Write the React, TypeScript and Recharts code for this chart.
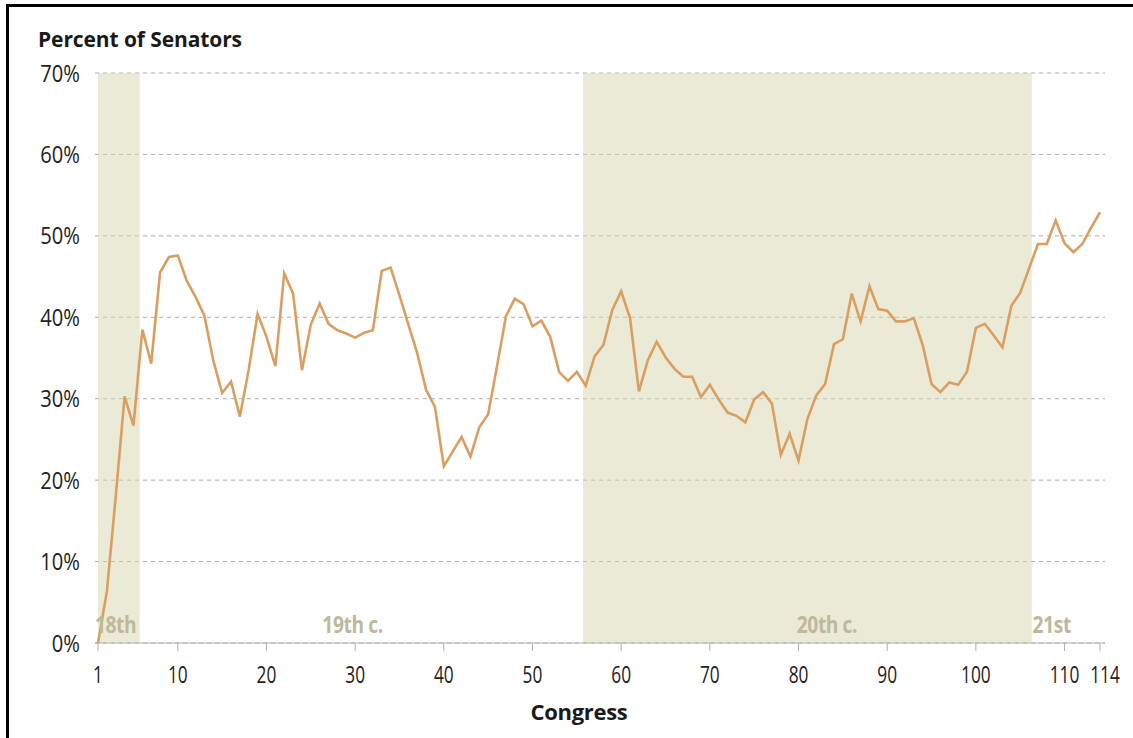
import React from 'react';
import { LineChart, Line, XAxis, YAxis, CartesianGrid, ReferenceArea, ReferenceDot } from 'recharts';

// Share of senators per Congress (%), Congress 1 .. 114
const SENATOR_PCT = [
  0, 6.3, 18, 30.3, 26.7, 38.5, 34.3, 45.5, 47.4, 47.6,
  44.5, 42.5, 40.2, 34.7, 30.7, 32.1, 27.8, 33.6, 40.4, 37.6,
  34.0, 45.4, 42.9, 33.5, 39.1, 41.7, 39.2, 38.4, 38.0, 37.5,
  38.1, 38.4, 45.7, 46.1, 42.7, 39.1, 35.6, 31.1, 29.0, 21.7,
  23.5, 25.3, 22.9, 26.5, 28.1, 34.0, 40.1, 42.3, 41.6, 38.9,
  39.6, 37.6, 33.3, 32.2, 33.3, 31.6, 35.2, 36.6, 40.9, 43.2,
  39.9, 30.9, 34.7, 37.0, 35.1, 33.7, 32.7, 32.7, 30.2, 31.7,
  29.9, 28.3, 27.9, 27.1, 29.9, 30.8, 29.4, 23.1, 25.7, 22.4,
  27.5, 30.4, 31.8, 36.7, 37.3, 42.9, 39.5, 43.8, 41.0, 40.8,
  39.5, 39.5, 39.9, 36.6, 31.8, 30.8, 32.0, 31.7, 33.3, 38.7,
  39.2, 37.8, 36.3, 41.4, 43.0, 46.0, 49.0, 49.0, 51.9, 49.1,
  48.0, 49.0, 51.0, 52.9,
];

const X_TICKS = [1, 10, 20, 30, 40, 50, 60, 70, 80, 90, 100, 110, 114];
const Y_TICKS = [0, 10, 20, 30, 40, 50, 60, 70];

// shaded centuries (in Congress units)
const SHADED = [
  { from: 1, to: 5.7 },
  { from: 55.7, to: 106.3 },
];

const CENTURY_LABELS = [
  { text: '18th', at: 0.65 },
  { text: '19th c.', at: 26.3 },
  { text: '20th c.', at: 79.8 },
  { text: '21st', at: 106.4 },
];

const data = SENATOR_PCT.map((v, i) => ({ congress: i + 1, pct: v }));

const FONT = '"Open Sans", "Noto Sans", sans-serif';

// narrow-ish text, the original uses a condensed face
const XTick = ({ x, y, payload }: any) => (
  <g transform={`translate(${x + (payload.value === 114 ? 5 : 0)},${y})`}>
    <text x={0} y={0} dy={16} textAnchor="middle" transform="scale(0.72,1)" fill="#222" fontSize={24} fontFamily={FONT}>
      {payload.value}
    </text>
  </g>
);

const YTick = ({ x, y, payload }: any) => (
  <g transform={`translate(${x},${y})`}>
    <text x={0} y={0} dy={8.5} textAnchor="end" transform="scale(0.84,1)" fill="#222" fontSize={24} fontFamily={FONT}>
      {`${payload.value}%`}
    </text>
  </g>
);

const centuryLabel = (text: string) => (props: any) => {
  const vb = props.viewBox || {};
  return (
    <g transform={`translate(${vb.x},${vb.y})`}>
      <text x={0} y={0} dy={8} textAnchor="start" transform="scale(0.8,1)" fill="#bdb99b" fontSize={24} fontWeight={700} fontFamily={FONT} letterSpacing={-0.5}>
        {text}
      </text>
    </g>
  );
};

export default function App() {
  return (
    <div style={{ position: 'absolute', left: 0, top: 0, width: 1133, height: 738, background: '#fff', fontFamily: FONT }}>
      <div style={{ position: 'absolute', left: 6, top: 4, width: 1127, height: 734, borderTop: '3px solid #000', borderLeft: '3px solid #000', boxSizing: 'border-box' }} />
      <div style={{ position: 'absolute', left: 38, top: 29, fontSize: 21, fontWeight: 700, lineHeight: '21px', color: '#1a1a1a', letterSpacing: -0.1 }}>
        Percent of Senators
      </div>
      <div style={{ position: 'absolute', left: 479, width: 200, top: 700, textAlign: 'center', fontSize: 22, fontWeight: 700, lineHeight: '22px', color: '#1a1a1a', letterSpacing: -0.3 }}>
        Congress
      </div>
      <LineChart
        width={1133}
        height={738}
        data={data}
        margin={{ top: 73, right: 28, bottom: 0, left: 0 }}
        style={{ position: 'absolute', left: 0, top: 0 }}
      >
        {SHADED.map((s, i) => (
          <ReferenceArea key={i} x1={s.from} x2={s.to} y1={0} y2={70} fill="#d7d5ad" fillOpacity={0.5} stroke="none" />
        ))}
        <CartesianGrid vertical={false} strokeDasharray="4 4" stroke="#ababab" />
        <XAxis
          type="number"
          dataKey="congress"
          domain={[1, 114]}
          ticks={X_TICKS}
          interval={0}
          padding={{ left: 3, right: 5 }}
          height={95}
          stroke="#b0b0b0"
          tickSize={8}
          tickMargin={16}
          tick={<XTick />}
        />
        <YAxis
          domain={[0, 70]}
          ticks={Y_TICKS}
          width={95}
          axisLine={false}
          tickLine={false}
          tickSize={0}
          tickMargin={15}
          tick={<YTick />}
        />
        {CENTURY_LABELS.map((c) => (
          <ReferenceDot
            key={c.text}
            x={c.at}
            y={2.2}
            r={0}
            ifOverflow="visible"
            fill="none"
            stroke="none"
            label={centuryLabel(c.text)}
          />
        ))}
        <Line
          type="linear"
          dataKey="pct"
          stroke="#da9f60"
          strokeWidth={2.6}
          dot={false}
          isAnimationActive={false}
        />
      </LineChart>
    </div>
  );
}
